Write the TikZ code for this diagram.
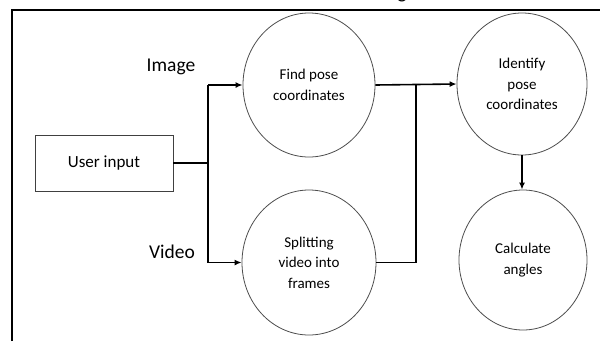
\documentclass[tikz,border=0pt]{standalone}
\usepackage{fontspec}
\setmainfont{Carlito}
\usetikzlibrary{shapes.geometric,arrows.meta}
\begin{document}
\begin{tikzpicture}[x=1pt,y=-1pt,
  stage/.style={ellipse,draw=black!70,line width=0.8pt,inner sep=0pt,
    align=center,font=\fontsize{15}{20.5}\selectfont},
  inbox/.style={rectangle,draw=black!75,line width=0.9pt,minimum width=138pt,
    minimum height=56pt,inner sep=0pt,font=\fontsize{17}{20}\selectfont},
  branch/.style={font=\fontsize{19.5}{22}\selectfont,inner sep=0pt},
  link/.style={line width=1.6pt,black},
  tip/.style={-{Latex[length=7pt,width=6pt]}}]
\useasboundingbox (0,0) rectangle (600,341);
% frame
\draw[line width=2.2pt] (12,341) -- (12,10) -- (601,10);
% caption fragment above the frame
\node[font=\fontsize{20}{22}\selectfont,anchor=base,inner sep=0pt] (cap) at (402,-2) {g};
% nodes
\node[inbox] (user) at (104,163) {User input};
\node[branch] (img) at (171,67) {Image};
\node[branch] (vid) at (172,252) {Video};
\node[stage,minimum width=132pt,minimum height=144pt] (find) at (309,85) {Find pose\\coordinates};
\node[stage,minimum width=134pt,minimum height=145pt] (split) at (309,262.5) {Splitting\\video into\\frames};
\node[stage,minimum width=130pt,minimum height=142pt] (ident) at (522,84) {Identify\\pose\\coordinates};
\node[stage,minimum width=128pt,minimum height=140pt] (calc) at (523,260) {Calculate\\angles};
% junctions
\coordinate (j1) at (208,163);
\coordinate (j1t) at (208,85);
\coordinate (j1b) at (208,262.5);
\coordinate (j2) at (416,85);
\coordinate (j2b) at (416,262.5);
% connectors
\draw[link,line width=2.2pt] (user.east) -- (j1);
\draw[link] (j1t) -- (j1b);
\draw[link,tip] (j1t) -- (find.west);
\draw[link,tip] (j1b) -- (split.west);
\draw[link] (split.east) -- (j2b) -- (j2);
\draw[link,tip] (find.east) -- (ident.west);
\draw[link,tip] (ident.south) -- (ident.south |- calc.north);
\end{tikzpicture}
\end{document}
